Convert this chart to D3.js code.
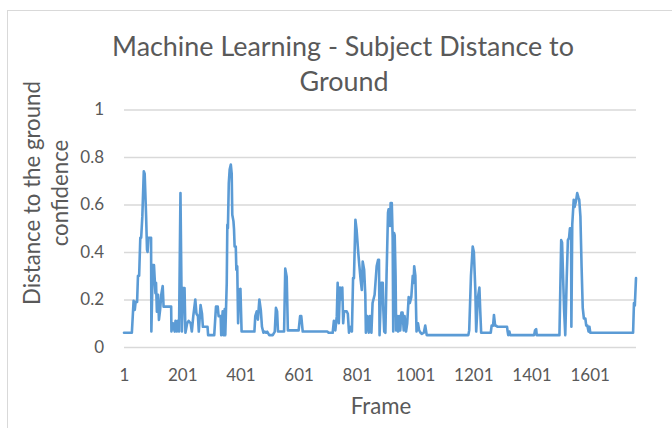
<!DOCTYPE html>
<html>
<head>
<meta charset="utf-8">
<script src="https://cdn.jsdelivr.net/npm/d3@7"></script>
<style>
  html, body { margin: 0; padding: 0; background: #ffffff; }
  svg { display: block; }
  text { font-family: Lato, "Open Sans", sans-serif; fill: #595959; }
</style>
</head>
<body>
<svg id="chart" width="672" height="428"></svg>
<script>
const titleLines = ["Machine Learning - Subject Distance to", "Ground"];
const yTitleLines = ["Distance to the ground", "confidence"];
const xTitle = "Frame";
const xTickValues = [1, 201, 401, 601, 801, 1001, 1201, 1401, 1601];
const xTickLabels = ["1", "201", "401", "601", "801", "1001", "1201", "1401", "1601"];
const yTickValues = [0, 0.2, 0.4, 0.6, 0.8, 1];
const yTickLabels = ["0", "0.2", "0.4", "0.6", "0.8", "1"];
const frameCount = 1760;

const frames = [1,28,34,38,41,46,49,53,57,60,64,69,72,77,80,82,85,94,95,100,104,109,111,114,118,121,125,129,134,137,163,164,169,175,178,182,186,190,195,200,204,209,212,218,223,230,234,239,246,250,255,258,264,269,272,280,288,290,311,317,323,326,333,335,340,343,347,349,354,356,358,361,364,368,371,373,377,379,381,385,387,390,393,396,401,405,449,452,457,461,466,471,475,480,484,489,493,500,512,519,523,527,530,551,555,560,564,601,606,610,615,700,704,718,722,727,732,735,739,743,747,751,754,757,766,770,774,780,784,788,791,796,800,805,809,814,818,821,826,830,832,837,842,846,851,855,862,869,874,877,879,885,890,892,895,899,903,908,910,915,917,921,924,926,929,931,934,936,940,943,947,950,954,958,962,965,970,974,979,983,988,993,996,998,1002,1006,1011,1015,1020,1024,1031,1036,1041,1184,1187,1193,1199,1203,1208,1211,1217,1222,1225,1228,1261,1264,1269,1272,1276,1279,1284,1317,1319,1321,1325,1328,1410,1413,1417,1419,1497,1503,1506,1513,1517,1522,1526,1530,1533,1537,1538,1541,1546,1549,1554,1558,1562,1565,1569,1573,1577,1581,1586,1589,1593,1597,1600,1603,1750,1753,1756,1760];

const confidence = [0.06,0.06,0.195,0.156,0.19,0.19,0.30,0.30,0.46,0.46,0.55,0.74,0.73,0.55,0.41,0.40,0.46,0.46,0.065,0.345,0.345,0.227,0.27,0.149,0.22,0.114,0.155,0.22,0.257,0.17,0.17,0.065,0.1,0.065,0.11,0.065,0.11,0.065,0.648,0.065,0.248,0.248,0.06,0.1,0.11,0.1,0.065,0.13,0.2,0.14,0.13,0.065,0.177,0.14,0.085,0.085,0.085,0.05,0.05,0.17,0.17,0.13,0.13,0.05,0.15,0.05,0.16,0.05,0.27,0.515,0.5,0.69,0.747,0.768,0.73,0.557,0.53,0.495,0.423,0.423,0.325,0.34,0.1,0.24,0.245,0.065,0.065,0.13,0.15,0.115,0.2,0.155,0.085,0.06,0.065,0.06,0.065,0.05,0.05,0.065,0.165,0.15,0.065,0.065,0.33,0.295,0.07,0.07,0.13,0.13,0.065,0.065,0.06,0.06,0.11,0.07,0.13,0.27,0.1,0.25,0.2,0.25,0.1,0.15,0.15,0.14,0.06,0.085,0.065,0.29,0.29,0.536,0.495,0.41,0.35,0.283,0.24,0.36,0.325,0.22,0.06,0.13,0.06,0.13,0.06,0.185,0.22,0.34,0.367,0.367,0.05,0.27,0.27,0.155,0.065,0.06,0.3,0.565,0.58,0.51,0.606,0.606,0.46,0.065,0.48,0.47,0.3,0.07,0.13,0.065,0.13,0.07,0.145,0.145,0.07,0.13,0.065,0.1,0.21,0.185,0.21,0.3,0.27,0.34,0.3,0.065,0.1,0.07,0.06,0.055,0.06,0.09,0.05,0.05,0.07,0.3,0.423,0.40,0.24,0.065,0.21,0.25,0.15,0.06,0.06,0.09,0.09,0.135,0.09,0.09,0.085,0.085,0.065,0.05,0.065,0.05,0.05,0.07,0.075,0.05,0.05,0.45,0.44,0.155,0.05,0.29,0.45,0.46,0.5,0.5,0.085,0.515,0.62,0.59,0.615,0.648,0.63,0.62,0.55,0.34,0.165,0.12,0.12,0.09,0.09,0.065,0.085,0.06,0.06,0.185,0.175,0.29];

const data = frames.map((f, i) => ({ frame: f, value: confidence[i] }));

const svg = d3.select("#chart");
const plot = { left: 124, right: 636, top: 109.5, bottom: 347 };

// chart area border
svg.append("rect")
  .attr("x", 7.5).attr("y", 10.5)
  .attr("width", 720).attr("height", 500)
  .attr("fill", "#ffffff")
  .attr("stroke", "#d9d9d9").attr("stroke-width", 1);

const x = d3.scaleLinear().domain([1, frameCount]).range([plot.left, plot.right]);
const y = d3.scaleLinear().domain([0, 1]).range([plot.bottom, plot.top]);

function fitText(sel, target) {
  const n = sel.node();
  const fs = parseFloat(sel.attr("font-size"));
  const w = n.getComputedTextLength();
  if (w > 0) sel.attr("font-size", (fs * target / w).toFixed(2));
}

// y axis with gridlines
const yAxis = d3.axisLeft(y)
  .tickValues(yTickValues)
  .tickFormat((d, i) => yTickLabels[i])
  .tickSize(-(plot.right - plot.left))
  .tickPadding(20);
const gy = svg.append("g").attr("transform", `translate(${plot.left},0)`).call(yAxis);
gy.select(".domain").remove();
gy.selectAll(".tick line").attr("stroke", "#d9d9d9").attr("stroke-width", 1.3);
gy.selectAll(".tick text").attr("font-size", 17).attr("fill", "#595959")
  .attr("font-family", "Lato, sans-serif");

// x axis labels
const xAxis = d3.axisBottom(x).tickValues(xTickValues)
  .tickFormat((d, i) => xTickLabels[i])
  .tickSize(0).tickPadding(22);
const gx = svg.append("g").attr("transform", `translate(0,${plot.bottom})`).call(xAxis);
gx.select(".domain").remove();
gx.selectAll(".tick text").attr("font-size", 17).attr("fill", "#595959")
  .attr("font-family", "Lato, sans-serif");

// line
const line = d3.line().x(d => x(d.frame)).y(d => y(d.value));
svg.append("path").datum(data)
  .attr("d", line)
  .attr("fill", "none")
  .attr("stroke", "#5b9bd5")
  .attr("stroke-width", 2.6)
  .attr("stroke-linejoin", "round")
  .attr("stroke-linecap", "round");

// title
const t1 = svg.append("text").attr("x", 343).attr("y", 56)
  .attr("text-anchor", "middle").attr("font-size", 24).attr("font-weight", 400)
  .text(titleLines[0]);
fitText(t1, 462);
const t2 = svg.append("text").attr("x", 344).attr("y", 91)
  .attr("text-anchor", "middle").attr("font-size", t1.attr("font-size")).attr("font-weight", 400)
  .text(titleLines[1]);

// y axis title
const yt1 = svg.append("text")
  .attr("transform", "translate(40,193) rotate(-90)")
  .attr("text-anchor", "middle").attr("font-size", 20)
  .text(yTitleLines[0]);
fitText(yt1, 224);
svg.append("text")
  .attr("transform", "translate(68,193) rotate(-90)")
  .attr("text-anchor", "middle").attr("font-size", yt1.attr("font-size"))
  .text(yTitleLines[1]);

// x axis title
svg.append("text").attr("x", 381).attr("y", 414)
  .attr("text-anchor", "middle").attr("font-size", yt1.attr("font-size"))
  .text(xTitle);
</script>
</body>
</html>
